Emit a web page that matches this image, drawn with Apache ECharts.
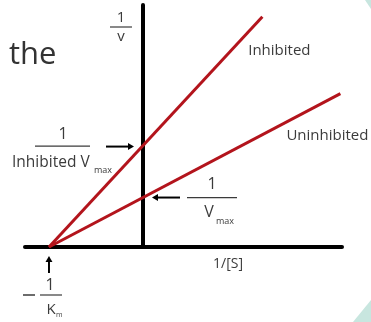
<!DOCTYPE html>
<html><head><meta charset="utf-8">
<script src="https://cdn.jsdelivr.net/npm/echarts@6/dist/echarts.min.js"></script>
<style>html,body{margin:0;padding:0;background:#fff}#c{width:371px;height:322px}</style>
</head><body><div id="c"></div>
<script>
// Data (Lineweaver-Burk, arbitrary units): x = 1/[S], y = 1/v
const seriesNames = ['Inhibited', 'Uninhibited'];
const inhibitedX = [-1, 1.27];
const inhibitedY = [0, 4.7];
const uninhibitedX = [-1, 2.1];
const uninhibitedY = [0, 3.13];
const xAxisRange = [-1.255, 2.117];
const yAxisRange = [0, 4.94];
const texts = {
  title: 'the', yAxis: ['1', 'v'], xAxis: '1/[S]',
  inhibVmax: ['1', 'Inhibited V', 'max'], vmax: ['1', 'V', 'max'], km: ['−', '1', 'K', 'm']
};

const FONT = '"Open Sans", sans-serif';
const TXT = '#3b3b3b';
const RED = '#b3141c';

function pairs(xs, ys) { return xs.map((x, i) => [x, ys[i]]); }
function intercept(xs, ys) { const s = (ys[1] - ys[0]) / (xs[1] - xs[0]); return ys[0] - s * xs[0]; }

const chart = echarts.init(document.getElementById('c'), null, {renderer: 'canvas'});
chart.setOption({
  animation: false,
  grid: {left: 25, right: 29, top: 5, bottom: 75, containLabel: false},
  xAxis: {type: 'value', min: xAxisRange[0], max: xAxisRange[1],
    axisLine: {show: true, onZero: true, lineStyle: {color: '#000', width: 4}},
    axisTick: {show: false}, axisLabel: {show: false}, splitLine: {show: false}},
  yAxis: {type: 'value', min: yAxisRange[0], max: yAxisRange[1],
    axisLine: {show: true, onZero: true, lineStyle: {color: '#000', width: 4}},
    axisTick: {show: false}, axisLabel: {show: false}, splitLine: {show: false}},
  series: [
    {name: seriesNames[0], type: 'line', data: pairs(inhibitedX, inhibitedY), symbol: 'none',
     lineStyle: {color: RED, width: 3}, z: 3},
    {name: seriesNames[1], type: 'line', data: pairs(uninhibitedX, uninhibitedY), symbol: 'none',
     lineStyle: {color: RED, width: 3}, z: 3}
  ]
});

const p = (x, y) => chart.convertToPixel({gridIndex: 0}, [x, y]);
const inhibInt = p(0, intercept(inhibitedX, inhibitedY));
const uninhInt = p(0, intercept(uninhibitedX, uninhibitedY));
const xInt = p(inhibitedX[0], 0);
const yTop = p(0, yAxisRange[1]);
const inhibEnd = p(inhibitedX[1], inhibitedY[1]);
const uninhEnd = p(uninhibitedX[1], uninhibitedY[1]);

function t(text, x, y, size, align, fill) {
  return {type: 'text', x: x, y: y, z: 10, style: {text: text, fill: fill || TXT, font: size + 'px ' + FONT,
    align: align || 'center', verticalAlign: 'middle'}};
}
function ln(x1, y1, x2, y2, w, c) {
  return {type: 'line', z: 10, shape: {x1, y1, x2, y2}, style: {stroke: c || '#000', lineWidth: w || 1.5}};
}
function arrow(x1, y1, x2, y2) {
  const a = Math.atan2(y2 - y1, x2 - x1), L = 6, W = 3.5;
  const bx = x2 - L * Math.cos(a), by = y2 - L * Math.sin(a);
  return [ln(x1, y1, bx, by, 2),
    {type: 'polygon', z: 10, shape: {points: [[x2, y2],
      [bx + W * Math.sin(a), by - W * Math.cos(a)], [bx - W * Math.sin(a), by + W * Math.cos(a)]]},
      style: {fill: '#000'}}];
}

const ax = inhibInt[0];
const g = [];
// decorations
g.push({type: 'polygon', z: 0, shape: {points: [[365, 0], [371, 0], [371, 9]]}, style: {fill: '#c8e6df'}});
g.push({type: 'polygon', z: 0, shape: {points: [[353, 322], [371, 322], [371, 300]]}, style: {fill: '#c8e6df'}});
g.push(t(texts.title, 9, 55, 31, 'left', '#333'));
// y axis label 1/v
g.push(t(texts.yAxis[0], ax - 22, yTop[1] + 13, 15));
g.push(ln(ax - 33, yTop[1] + 22, ax - 11, yTop[1] + 22, 1.2, TXT));
g.push(t(texts.yAxis[1], ax - 22, yTop[1] + 32, 15));
// x axis label
g.push(t(texts.xAxis, 228, xInt[1] + 17, 14));
// inhibited Vmax fraction
const iy = inhibInt[1];
g.push(t(texts.inhibVmax[0], 63, iy - 11, 16));
g.push(ln(35, iy + 0.5, 90, iy + 0.5, 1.2, TXT));
g.push(t(texts.inhibVmax[1], 12, iy + 17, 15.5, 'left'));
g.push(t(texts.inhibVmax[2], 94, iy + 25, 9, 'left'));
g.push(...arrow(106, iy + 1, ax - 9, iy + 1));
// Vmax fraction
const uy = uninhInt[1];
g.push(t(texts.vmax[0], 212, uy - 13, 16));
g.push(ln(187, uy, 237, uy, 1.2, TXT));
g.push(t(texts.vmax[1], 209, uy + 15, 16));
g.push(t(texts.vmax[2], 216, uy + 24, 9, 'left'));
g.push(...arrow(180, uy, ax + 9, uy));
// -1/Km
const kx = xInt[0], ky = xInt[1];
g.push(...arrow(kx, ky + 26, kx, ky + 9));
g.push(ln(23, ky + 48, 35, ky + 48, 1.5, TXT));
g.push(t(texts.km[1], kx + 1, ky + 38, 16));
g.push(ln(40, ky + 48, 62, ky + 48, 1.2, TXT));
g.push(t(texts.km[2], kx + 2, ky + 63, 15));
g.push(t(texts.km[3], kx + 7, ky + 68, 7, 'left'));
// series labels
g.push(t(seriesNames[0], inhibEnd[0] + 17, inhibEnd[1] + 34, 15));
g.push(t(seriesNames[1], uninhEnd[0] - 13, uninhEnd[1] + 42, 15));

chart.setOption({graphic: g});
</script></body></html>
